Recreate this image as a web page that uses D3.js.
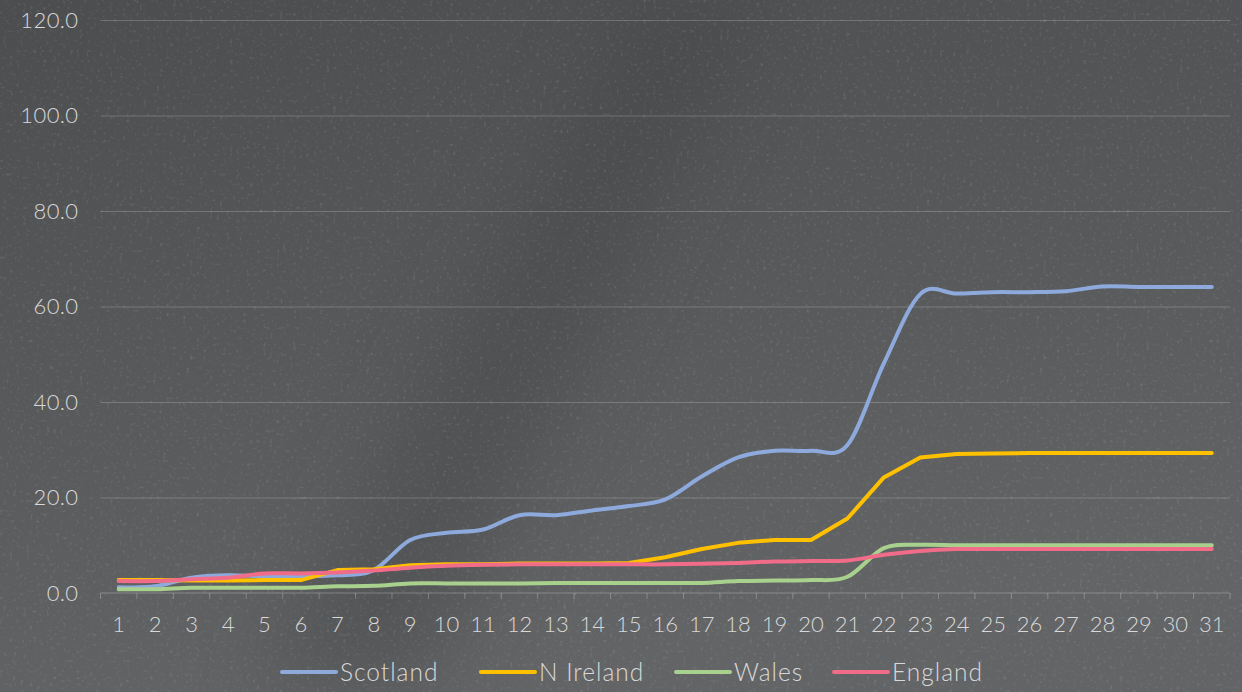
<!DOCTYPE html>
<html>
<head>
<meta charset="utf-8">
<script src="https://cdn.jsdelivr.net/npm/d3@7"></script>
<style>
  html, body { margin: 0; padding: 0; background: #58595b; }
  svg { display: block; }
  text { font-family: "Lato", "Open Sans", sans-serif; font-weight: 300; fill: #d9d9d9; }
</style>
</head>
<body>
<svg role="chart"></svg>
<script>
(function(){

  // data
  var days = d3.range(1, 32);
  var seriesNames = ['Scotland', 'N Ireland', 'Wales', 'England'];
  var seriesColors = ['#8eaadd', '#ffc000', '#a9d18e', '#f06c88'];

  var scotland = [1.2, 1.4, 3.2, 3.7, 3.5, 3.5, 3.7, 4.8, 11.1, 12.6, 13.3, 16.3, 16.3, 17.3, 18.2, 19.6,
                  24.4, 28.4, 29.8, 29.8, 31.0, 48.1, 62.6, 62.7, 63.0, 63.0, 63.2, 64.2, 64.1, 64.1, 64.1];
  var nIreland = [2.7, 2.7, 2.6, 2.6, 2.7, 2.7, 4.8, 5.0, 5.8, 6.0, 6.0, 6.2, 6.2, 6.2, 6.3, 7.5,
                  9.2, 10.5, 11.1, 11.1, 15.6, 24.2, 28.4, 29.1, 29.2, 29.3, 29.3, 29.3, 29.3, 29.3, 29.3];
  var wales = [0.8, 0.8, 1.1, 1.1, 1.1, 1.1, 1.4, 1.5, 2.0, 2.0, 2.0, 2.0, 2.1, 2.1, 2.1, 2.1,
               2.1, 2.5, 2.6, 2.7, 3.4, 9.4, 10.1, 10.0, 10.0, 10.0, 10.0, 10.0, 10.0, 10.0, 10.0];
  var england = [2.5, 2.5, 2.9, 3.2, 4.1, 4.1, 4.3, 4.7, 5.3, 5.7, 5.9, 6.0, 6.0, 6.0, 6.0, 6.0,
                 6.1, 6.3, 6.6, 6.7, 6.8, 8.0, 8.8, 9.2, 9.2, 9.2, 9.2, 9.2, 9.2, 9.2, 9.2];
  var seriesValues = [scotland, nIreland, wales, england];
  var smoothed = [true, false, true, true];

  var yTicks = [0, 20, 40, 60, 80, 100, 120];

  var width = 1242,
      height = 692,
      plot = { left: 100.5, right: 1230, top: 20, bottom: 593 };

  var svg = d3.select('[role="chart"]')
    .attr('width', width)
    .attr('height', height);

  // background: dark slate with a little grain
  var defs = svg.append('defs');
  var bg = defs.append('linearGradient')
    .attr('id', 'bg')
    .attr('x1', 0).attr('y1', 0).attr('x2', 0.3).attr('y2', 1);
  bg.append('stop').attr('offset', '0%').attr('stop-color', '#4c4d4f');
  bg.append('stop').attr('offset', '55%').attr('stop-color', '#58595b');
  bg.append('stop').attr('offset', '100%').attr('stop-color', '#636466');

  var grain = defs.append('filter').attr('id', 'grain')
    .attr('x', 0).attr('y', 0).attr('width', '100%').attr('height', '100%');
  grain.append('feTurbulence')
    .attr('type', 'fractalNoise')
    .attr('baseFrequency', 0.3)
    .attr('numOctaves', 2)
    .attr('seed', 4);
  grain.append('feColorMatrix')
    .attr('type', 'matrix')
    .attr('values', '0 0 0 0 1  0 0 0 0 1  0 0 0 0 1  0 0 0 1.8 -1.05');

  var streak = defs.append('filter').attr('id', 'blur');
  streak.append('feGaussianBlur').attr('stdDeviation', 40);

  svg.append('rect')
    .attr('width', width)
    .attr('height', height)
    .attr('fill', 'url(#bg)');

  // the darker diagonal band across the board
  svg.append('path')
    .attr('d', 'M250,692 L420,692 L760,0 L640,0 Z')
    .attr('fill', '#3e3f41')
    .attr('opacity', 0.35)
    .attr('filter', 'url(#blur)');

  svg.append('rect')
    .attr('width', width)
    .attr('height', height)
    .attr('filter', 'url(#grain)')
    .attr('opacity', 0.2);

  // scales
  var x = d3.scaleBand()
    .domain(days)
    .range([plot.left, plot.right]);

  var y = d3.scaleLinear()
    .domain([0, 120])
    .range([plot.bottom, plot.top]);

  function cx(d) { return x(d) + x.bandwidth() / 2; }

  // gridlines
  svg.append('g')
    .attr('transform', 'translate(' + plot.left + ',0)')
    .call(d3.axisLeft(y)
      .tickValues(yTicks.slice(1))
      .tickSize(-(plot.right - plot.left))
      .tickFormat(''))
    .call(function(g) {
      g.select('.domain').remove();
      g.selectAll('line')
        .attr('stroke', '#ffffff')
        .attr('stroke-opacity', 0.2)
        .attr('stroke-width', 1);
    });

  // y labels
  svg.append('g')
    .attr('transform', 'translate(' + plot.left + ',0)')
    .call(d3.axisLeft(y)
      .tickValues(yTicks)
      .tickSize(0)
      .tickPadding(22)
      .tickFormat(d3.format('.1f')))
    .call(function(g) {
      g.select('.domain').remove();
      g.selectAll('text')
        .attr('fill', '#d9d9d9')
        .style('font-size', '22px')
        .style('letter-spacing', '0.4px')
        .style('font-family', '"Lato", "Open Sans", sans-serif');
    });

  // x axis line and boundary ticks
  var xAxis = svg.append('g');
  xAxis.append('line')
    .attr('x1', plot.left).attr('x2', plot.right)
    .attr('y1', y(0)).attr('y2', y(0))
    .attr('stroke', '#ffffff')
    .attr('stroke-opacity', 0.25);

  xAxis.selectAll('.tick-mark')
    .data(days.concat([null]))
    .enter()
    .append('line')
    .attr('class', 'tick-mark')
    .attr('x1', function(d) { return d === null ? plot.right : x(d); })
    .attr('x2', function(d) { return d === null ? plot.right : x(d); })
    .attr('y1', y(0))
    .attr('y2', y(0) + 6)
    .attr('stroke', '#ffffff')
    .attr('stroke-opacity', 0.25);

  xAxis.selectAll('.tick-label')
    .data(days)
    .enter()
    .append('text')
    .attr('class', 'tick-label')
    .attr('x', cx)
    .attr('y', 632)
    .attr('text-anchor', 'middle')
    .style('font-size', '22px')
    .text(function(d) { return d; });

  // lines
  seriesValues.forEach(function(values, s) {
    var line = d3.line()
      .x(function(d, i) { return cx(days[i]); })
      .y(function(d) { return y(d); })
      .curve(smoothed[s] ? d3.curveCardinal.tension(0) : d3.curveLinear);

    svg.append('path')
      .datum(values)
      .attr('d', line)
      .attr('fill', 'none')
      .attr('stroke', seriesColors[s])
      .attr('stroke-width', 4)
      .attr('stroke-linecap', 'round')
      .attr('stroke-linejoin', 'round');
  });

  // legend
  var legendX = [282, 481, 676, 834];
  var legend = svg.append('g');
  var items = legend.selectAll('g')
    .data(seriesNames)
    .enter()
    .append('g')
    .attr('transform', function(d, i) {
      return 'translate(' + legendX[i] + ',672)';
    });

  items.append('line')
    .attr('x1', 0).attr('x2', 54)
    .attr('stroke', function(d, i) { return seriesColors[i]; })
    .attr('stroke-width', 4)
    .attr('stroke-linecap', 'round');

  items.append('text')
    .attr('x', 58)
    .attr('y', 8.5)
    .style('font-size', '24.5px')
    .style('letter-spacing', '1px')
    .text(function(d) { return d; });

})();
</script>
</body>
</html>
